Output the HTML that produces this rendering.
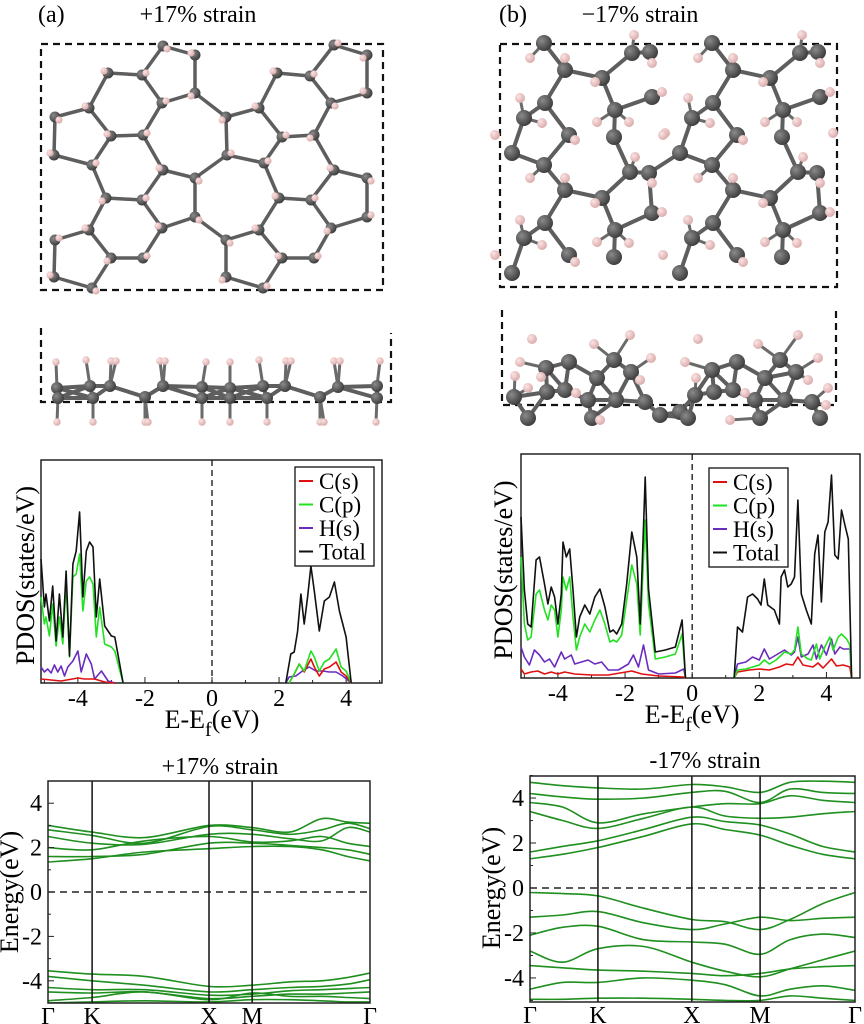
<!DOCTYPE html>
<html><head><meta charset="utf-8"><style>
html,body{margin:0;padding:0;background:#fff;}
svg{display:block;font-family:"Liberation Serif","Times New Roman",serif;}
</style></head><body>
<svg id="fig" width="864" height="1024" viewBox="0 0 864 1024" xmlns="http://www.w3.org/2000/svg">
<defs>
<radialGradient id="cg" cx="0.35" cy="0.35" r="0.7"><stop offset="0" stop-color="#8a8a8a"/><stop offset="1" stop-color="#3a3a3a"/></radialGradient>
<radialGradient id="hg" cx="0.35" cy="0.35" r="0.7"><stop offset="0" stop-color="#fbe4e4"/><stop offset="1" stop-color="#d9a8a8"/></radialGradient>
<clipPath id="clipBL"><rect x="48" y="781" width="322" height="222"/></clipPath>
<clipPath id="clipBR"><rect x="530" y="776" width="325" height="226"/></clipPath>
</defs>
<text x="38" y="22" font-size="24">(a)</text>
<text x="198" y="22" font-size="24" text-anchor="middle">+17% strain</text>
<text x="499" y="22" font-size="24">(b)</text>
<text x="640" y="22" font-size="24" text-anchor="middle">−17% strain</text>
<g id="struct"></g>
<g id="charts"></g>
</svg>
<script>
// ---------- PDOS data (+17%) ----------
const pdosA_valE = [-5.1,-5.0,-4.95,-4.85,-4.75,-4.65,-4.55,-4.45,-4.35,-4.25,-4.15,-4.05,-3.95,-3.85,-3.75,-3.65,-3.55,-3.45,-3.35,-3.2,-3.0,-2.9,-2.65];
const pdosA_valTotal = [12.4,7.6,8.9,6.2,9.7,4.2,8.9,4.6,11.2,2.7,11.9,13.2,17.1,8.6,13.2,14.1,13.6,6.6,10.4,5.7,4.7,4.6,0];
const pdosA_valCp = [8.6,5.9,6.6,4.7,7.9,3.7,6.6,3.9,9.9,2.6,10.6,10.9,12.9,7.2,10.2,10.6,9.9,4.6,7.6,3.9,3.6,3.2,0];
const pdosA_valHsE = [-5.1,-5.0,-4.9,-4.8,-4.7,-4.6,-4.5,-4.4,-4.3,-4.15,-4.0,-3.9,-3.75,-3.6,-3.5,-3.3,-3.1,-2.9];
const pdosA_valHs = [1.6,1.1,1.4,1.0,1.8,1.1,1.7,0.7,1.6,2.2,3.2,1.1,2.9,1.9,0.4,1.2,0.2,0];
const pdosA_valCsE = [-5.1,-4.5,-4.0,-3.8,-3.5,-3.2,-2.9];
const pdosA_valCs = [0.4,0.2,0.5,0.4,0.4,0.1,0];
const pdosA_conE = [2.2,2.35,2.45,2.55,2.65,2.75,2.85,2.95,3.05,3.2,3.35,3.5,3.65,3.8,4.0,4.15];
const pdosA_conTotal = [0,2.9,3.1,5.1,8.9,5.9,8.6,11.7,9.2,5.2,8.2,8.6,10.1,7.2,4.6,0];
const pdosA_conCE = [2.3,2.45,2.6,2.75,2.95,3.05,3.2,3.35,3.5,3.7,3.85,4.0,4.15];
const pdosA_conCp = [0,0.9,1.9,1.2,3.2,2.6,1.2,2.1,2.4,3.4,1.6,1.2,0];
const pdosA_conCs = [0,0.9,1.9,1.1,2.4,1.6,0.7,1.4,1.6,2.1,1.1,0.7,0];
const pdosA_conHE = [2.2,2.3,2.5,2.7,2.9,3.1,3.3,3.5,3.7,3.9,4.15];
const pdosA_conHs = [0,0.6,0.7,1.2,1.6,1.2,1.2,1.1,1.1,0.7,0];
// ---------- PDOS data (-17%) ----------
const pdosB_valE = [-5.1,-5.0,-4.9,-4.8,-4.65,-4.55,-4.4,-4.3,-4.2,-4.1,-4.0,-3.9,-3.85,-3.75,-3.65,-3.55,-3.45,-3.35,-3.2,-3.05,-2.9,-2.75,-2.6,-2.45,-2.35,-2.25,-2.1,-1.95,-1.8,-1.65,-1.55,-1.4,-1.3,-1.1,-0.8,-0.5,-0.3,-0.2];
const pdosB_valTotal = [16.1,8.8,5.4,5.1,11.8,12.1,9.4,7.4,9.1,8.1,5.4,8.4,13.6,12.1,12.9,8.8,4.1,6.1,7.3,6.4,8.1,8.9,7.1,4.6,4.8,4.4,5.4,9.4,14.6,12.1,5.4,20.1,8.9,2.6,2.8,3.1,5.8,0];
const pdosB_valCp = [12.1,5.4,3.8,4.1,8.4,8.8,6.8,5.8,7.3,6.8,4.1,6.8,10.1,8.8,10.1,6.1,2.8,4.1,5.4,4.6,5.8,6.8,5.4,3.6,3.8,3.6,4.3,7.8,11.3,9.4,4.3,15.8,7.4,1.9,2.1,2.4,4.4,0];
const pdosB_valHE = [-5.1,-5.0,-4.85,-4.7,-4.55,-4.4,-4.25,-4.1,-3.9,-3.8,-3.6,-3.5,-3.3,-3.1,-2.9,-2.7,-2.5,-2.2,-1.9,-1.75,-1.6,-1.45,-1.3,-1.0,-0.5,-0.25,-0.2];
const pdosB_valHs = [3.1,2.1,1.3,2.8,2.3,1.6,1.9,1.1,2.6,1.9,2.3,1.4,1.6,1.8,1.4,1.6,0.8,0.8,1.4,2.3,1.1,3.3,0.8,0.4,0.5,0.9,0];
const pdosB_valCsE = [-5.1,-5.0,-4.8,-4.6,-4.4,-4.2,-4.0,-3.8,-3.5,-3.0,-2.5,-1.8,-1.5,-1.0,-0.25,-0.2];
const pdosB_valCs = [0.9,0.4,0.6,0.7,0.4,0.6,0.4,0.6,0.4,0.3,0.3,0.7,0.4,0.2,0.1,0];
const pdosB_conE = [1.25,1.35,1.5,1.65,1.8,1.95,2.05,2.15,2.25,2.45,2.6,2.65,2.75,2.85,2.95,3.05,3.15,3.25,3.4,3.55,3.65,3.75,3.85,3.95,4.05,4.15,4.25,4.35,4.45,4.55,4.65,4.75];
const pdosB_conTotal = [0,5.1,4.6,8.1,8.4,7.9,7.3,9.9,7.3,6.8,5.4,10.1,10.8,9.1,9.4,10.1,17.8,8.4,6.8,5.4,12.4,14.3,7.6,14.6,15.6,20.3,12.3,11.9,16.8,15.3,13.9,0];
const pdosB_conCpE = [1.25,1.35,1.6,1.8,2.0,2.15,2.3,2.5,2.75,2.95,3.05,3.15,3.25,3.45,3.55,3.7,3.8,3.95,4.1,4.2,4.35,4.45,4.6,4.7,4.75];
const pdosB_conCp = [0,0.8,0.9,1.1,1.3,1.8,1.4,1.8,2.6,2.4,2.8,5.1,2.4,1.9,1.8,3.4,1.9,3.1,4.1,2.8,4.1,4.4,3.9,3.3,0];
const pdosB_conHE = [1.25,1.35,1.6,1.8,2.0,2.15,2.3,2.5,2.75,2.95,3.05,3.15,3.25,3.45,3.6,3.7,3.85,4.0,4.15,4.25,4.4,4.5,4.7,4.75];
const pdosB_conHs = [0,1.4,1.6,2.1,1.8,2.9,1.9,2.3,2.8,2.3,2.6,4.1,2.1,2.4,3.3,1.9,3.3,2.3,3.9,2.4,3.1,2.9,2.9,0];
const pdosB_conCsE = [1.25,1.35,1.7,2.0,2.3,2.6,2.8,3.0,3.15,3.3,3.6,3.75,3.9,4.15,4.3,4.5,4.7,4.75];
const pdosB_conCs = [0,0.6,0.8,0.9,0.8,1.1,1.4,1.3,2.1,1.3,1.1,1.5,1.0,1.9,1.2,1.3,1.1,0];
const pdosXTicks = [-4,-2,0,2,4];
const legendLabels = ["C(s)","C(p)","H(s)","Total"];
// ---------- Band data (+17%) ----------
const bandA_k = [0,0.137,0.3,0.5,0.634,0.75,0.85,0.93,1];
const bandA_c1 = [3.0,2.7,2.45,3.0,2.9,2.7,3.3,3.15,3.1];
const bandA_c2 = [2.8,2.55,2.2,2.95,2.8,2.6,2.8,3.1,2.85];
const bandA_c3 = [2.5,2.2,2.15,2.6,2.6,2.4,2.3,2.9,2.7];
const bandA_c4 = [2.0,1.9,2.3,2.5,2.25,2.3,2.5,2.2,2.05];
const bandA_c5 = [1.6,1.6,1.7,2.2,2.2,2.1,2.0,1.9,1.7];
const bandA_c6 = [1.35,1.5,1.8,1.95,2.05,2.05,1.9,1.6,1.4];
const bandA_v1 = [-3.55,-3.7,-3.8,-4.25,-4.2,-4.05,-4.0,-3.85,-3.65];
const bandA_v2 = [-3.8,-4.0,-4.2,-4.5,-4.4,-4.3,-4.25,-4.15,-3.95];
const bandA_v3 = [-4.3,-4.4,-4.4,-4.65,-4.6,-4.45,-4.4,-4.35,-4.3];
const bandA_v4 = [-4.5,-4.55,-4.5,-4.8,-4.7,-4.6,-4.6,-4.55,-4.5];
const bandA_v5 = [-4.9,-4.75,-4.5,-4.85,-4.55,-4.7,-4.7,-4.75,-4.8];
const bandA_v6 = [-5.0,-4.95,-4.9,-4.95,-4.85,-4.85,-4.9,-4.95,-4.95];
const bandA_kLabelPos = [0,0.137,0.5,0.634,1];
// ---------- Band data (-17%) ----------
const bandB_k = [0,0.1,0.209,0.35,0.498,0.6,0.708,0.8,0.9,1];
const bandB_c1 = [4.7,4.55,4.45,4.4,4.6,4.5,4.25,4.7,4.75,4.7];
const bandB_c2 = [4.2,4.05,3.95,4.0,4.25,4.3,3.8,4.4,4.25,4.2];
const bandB_c3 = [3.8,3.6,2.9,3.3,3.6,3.75,3.75,4.1,3.9,3.8];
const bandB_c4 = [3.4,3.0,2.65,3.1,3.6,3.2,3.1,3.15,3.3,3.4];
const bandB_c5 = [1.6,1.85,2.1,2.6,3.15,2.95,2.8,2.4,1.85,1.6];
const bandB_c6 = [1.3,1.5,1.8,2.3,2.85,2.6,2.35,1.9,1.5,1.3];
const bandB_v1 = [-0.2,-0.25,-0.35,-0.9,-1.4,-1.5,-1.85,-1.4,-0.7,-0.2];
const bandB_v2 = [-1.3,-1.2,-1.05,-1.55,-1.85,-1.6,-1.3,-1.45,-1.35,-1.3];
const bandB_v3 = [-2.1,-1.75,-1.7,-2.3,-2.4,-2.5,-2.95,-2.3,-2.05,-2.2];
const bandB_v4 = [-2.8,-3.3,-2.7,-2.6,-3.3,-3.7,-3.95,-3.6,-3.2,-2.8];
const bandB_v5 = [-3.45,-3.55,-3.65,-3.7,-3.8,-3.9,-3.8,-3.6,-3.5,-3.45];
const bandB_v6 = [-4.5,-4.2,-4.2,-4.0,-4.1,-4.3,-4.8,-4.5,-4.35,-4.55];
const bandB_v7 = [-4.95,-4.95,-4.9,-4.9,-4.95,-5.0,-5.0,-4.8,-4.9,-5.0];
const bandB_kLabelPos = [0,0.209,0.498,0.708,1];
const kLabels = ["Γ","K","X","M","Γ"];
const bandYTicks = [-4,-2,0,2,4];

const NS = "http://www.w3.org/2000/svg";
function mk(tag, attrs, parent){
  const el = document.createElementNS(NS, tag);
  for (const k in attrs) el.setAttribute(k, attrs[k]);
  parent.appendChild(el);
  return el;
}
const charts = document.getElementById('charts');
const struct = document.getElementById('struct');

// ---------------- Structures ----------------
function drawMolecule(cAtoms, hAtoms, thr, g, bigR, hThr){
  for (let i=0;i<cAtoms.length;i++) for (let j=i+1;j<cAtoms.length;j++){
    const dx=cAtoms[i][0]-cAtoms[j][0], dy=cAtoms[i][1]-cAtoms[j][1];
    if (Math.sqrt(dx*dx+dy*dy) < thr){
      const b = mk('line',{x1:cAtoms[i][0],y1:cAtoms[i][1],x2:cAtoms[j][0],y2:cAtoms[j][1],stroke:'#5e5e5e','stroke-width':4,'stroke-linecap':'round'},g);
      
      
    }
  }
  hAtoms.forEach(h=>{
    let best=null,bd=1e9;
    cAtoms.forEach(c=>{const d=Math.hypot(c[0]-h[0],c[1]-h[1]); if(d<bd){bd=d;best=c;}});
    if (best && bd<hThr){
      const b = mk('line',{x1:best[0],y1:best[1],x2:h[0],y2:h[1],stroke:'#6a6a6a','stroke-width':3},g);
      
      
    }
  });
  cAtoms.forEach(c=>{
    const a = mk('circle',{cx:c[0],cy:c[1],r:bigR,fill:'url(#cg)'},g);
    
    
  });
  hAtoms.forEach(h=>{
    const a = mk('circle',{cx:h[0],cy:h[1],r:bigR*0.62,fill:'url(#hg)'},g);
    
    
  });
}
function dashedBox(pts, g, name){
  const p = mk('polyline',{points:pts,fill:'none',stroke:'#111','stroke-width':2.2,'stroke-dasharray':'7,5'},g);
  
  
}
// (a) top view
const aC = [[163,46],[195,55],[142,75],[195,93],[162,103],[89,108],[55,117],[111,136],[143,135],[226,117],[227,155],[163,170],[195,178],[54,155],[92,165],[106,198],[142,200],[162,228],[195,217],[89,230],[55,240],[111,258],[143,258],[54,277],[92,288],[108,73],
[334,45],[367,55],[310,76],[367,93],[331,103],[259,108],[282,137],[314,135],[264,163],[334,170],[367,178],[279,198],[311,200],[331,228],[367,217],[259,230],[226,240],[282,258],[314,258],[226,277],[263,288],[277,73]];
const aH = aC.map((c,i)=>[c[0]+(i%2?-4:4), c[1]+(i%3?-2:3)]);
const gA = mk('g',{},struct);


dashedBox('41,44 383,44 383,290 41,290 41,44', gA, 'unit-cell-a-top');
(function(){
  for (let i=0;i<aC.length;i++) for (let j=i+1;j<aC.length;j++){
    const d=Math.hypot(aC[i][0]-aC[j][0],aC[i][1]-aC[j][1]);
    if (d<42){
      const b = mk('line',{x1:aC[i][0],y1:aC[i][1],x2:aC[j][0],y2:aC[j][1],stroke:'#5e5e5e','stroke-width':3.5},gA);
      
      
    }
  }
  aC.forEach((c,i)=>{
    const a = mk('circle',{cx:c[0],cy:c[1],r:5.5,fill:'url(#cg)'},gA);
    
    
    const h = mk('circle',{cx:aH[i][0],cy:aH[i][1],r:3.6,fill:'url(#hg)'},gA);
    
    
  });
})();
// (a) side view
const gAS = mk('g',{},struct);


dashedBox('41,328 41,402 391,402 391,333', gAS, 'unit-cell-a-side');
const aSC = [[57,388],[90,386],[110,386],[163,386],[202,387],[230,388],[263,386],[285,386],[338,387],[377,386],[58,398],[93,398],[145,397],[202,398],[230,398],[267,398],[320,397],[377,398]];
const aSH = [[56,362],[86,360],[111,361],[116,361],[160,361],[165,361],[206,362],[230,362],[259,360],[286,361],[291,361],[334,361],[340,361],[380,361],[57,422],[93,422],[145,422],[148,422],[202,422],[230,422],[267,422],[320,422],[324,422],[376,422]];
drawMolecule(aSC, aSH, 42, gAS, 6, 32);
// (b) top view
const bHalfC = [[544,43],[565,70],[602,78],[632,53],[650,52],[652,97],[615,110],[545,103],[524,118],[569,135],[614,137],[512,153],[544,165],[565,190],[602,198],[630,172],[649,173],[652,213],[615,230],[545,223],[524,238],[569,255],[614,257],[512,273]];
const bHalfH = [[634,35],[530,58],[565,58],[595,82],[652,63],[662,92],[520,98],[542,123],[495,135],[597,122],[629,122],[575,140],[530,178],[565,178],[595,203],[635,157],[652,183],[662,212],[520,220],[542,245],[495,255],[597,242],[629,243],[575,262],[665,133]];
const bC = bHalfC.concat(bHalfC.map(p=>[p[0]+168,p[1]]).filter(p=>p[0]<835));
const bH = bHalfH.concat(bHalfH.map(p=>[p[0]+168,p[1]]).filter(p=>p[0]<838));
const gB = mk('g',{},struct);


dashedBox('500,44 837,44 837,287 500,287 500,44', gB, 'unit-cell-b-top');
drawMolecule(bC, bH, 44, gB, 8, 24);
// (b) side view
const gBS = mk('g',{},struct);


dashedBox('502,310 502,405 836,405 836,310', gBS, 'unit-cell-b-side');
const bSC = [[546,368],[569,362],[614,360],[597,378],[631,372],[514,397],[547,392],[565,390],[588,400],[616,400],[645,402],[660,415],[680,412],[695,395],[712,370],[737,362],[780,360],[765,378],[796,372],[714,392],[733,390],[755,400],[785,400],[812,402],[528,418],[592,418],[688,418],[820,418],[760,418]];
const bSH = [[532,339],[594,344],[630,335],[651,358],[520,362],[528,388],[576,393],[541,377],[698,339],[758,344],[798,335],[818,358],[685,362],[696,378],[745,393],[828,388],[826,405],[515,376],[640,380],[808,380],[600,420],[730,420]];
drawMolecule(bSC, bSH, 34, gBS, 8, 32);

// ---------------- PDOS panels ----------------
function linePath(xs, ys, sx, sy){
  return xs.map((x,i)=>(i?'L':'M')+sx(x).toFixed(1)+','+sy(ys[i]).toFixed(1)).join(' ');
}
function pdosPanel(opt){
  const g = mk('g',{},charts);
  
  
  const {x0,x1,y0,y1,emin,emax,vmax} = opt;
  const sx = e => x0 + (e-emin)/(emax-emin)*(x1-x0);
  const sy = v => y1 - v/vmax*(y1-y0);
  const fr = mk('rect',{x:x0,y:y0,width:x1-x0,height:y1-y0,fill:'none',stroke:'#222','stroke-width':1.5},g);
  
  
  const ef = mk('line',{x1:sx(0),x2:sx(0),y1:y0,y2:y1,stroke:'#111','stroke-width':1.3,'stroke-dasharray':'6,4'},g);
  
  
  for (let t=Math.ceil(emin); t<=Math.floor(emax); t++){
    const tk = mk('line',{x1:sx(t),x2:sx(t),y1:y1,y2:y1-(t%2===0?6:3),stroke:'#222','stroke-width':1},g);
    
    
  }
  pdosXTicks.forEach(t=>{
    const tl = mk('text',{x:sx(t),y:y1+23,'font-size':24,'text-anchor':'middle'},g);
    tl.textContent = t<0 ? '-'+Math.abs(t) : String(t);
    
    
  });
  const series = [
    ['purple','#6a2bbf',opt.hs],['red','#e01010',opt.cs],['green','#22e022',opt.cp],['black','#111',opt.tot]];
  series.forEach(s=>{
    s[2].forEach(part=>{
      const p = mk('path',{d:linePath(part[0],part[1],sx,sy),fill:'none',stroke:s[1],'stroke-width':1.6,'stroke-linejoin':'round'},g);
      
      
    });
  });
  const lg = mk('g',{},g);
  
  
  const lb = mk('rect',{x:opt.lx,y:opt.ly,width:79,height:99,fill:'#fff',stroke:'#111','stroke-width':1.3},lg);
  
  
  const lcols = ['#e01010','#22e022','#6a2bbf','#111'];
  legendLabels.forEach((l,i)=>{
    const yy = opt.ly+14+i*23.5;
    const ln = mk('line',{x1:opt.lx+4,x2:opt.lx+18,y1:yy,y2:yy,stroke:lcols[i],'stroke-width':2},lg);
    
    
    const tx = mk('text',{x:opt.lx+24,y:yy+8,'font-size':23},lg);
    tx.textContent = l;
    
    
  });
  const yl = mk('text',{x:0,y:0,'font-size':26,'text-anchor':'middle',transform:`translate(${opt.ylx},${(y0+y1)/2+4}) rotate(-90)`},g);
  yl.textContent = 'PDOS(states/eV)';
  
  
  const xl = mk('text',{x:sx(0),y:y1+45,'font-size':26,'text-anchor':'middle'},g);
  xl.innerHTML = 'E-E<tspan font-size="20" dy="8">f</tspan><tspan dy="-8">(eV)</tspan>';
  
  
}
pdosPanel({name:'pdos-plus17',x0:41,x1:382,y0:460,y1:683,emin:-5.1,emax:5.07,vmax:22.3,lx:295,ly:467,ylx:34,
  tot:[[pdosA_valE,pdosA_valTotal],[pdosA_conE,pdosA_conTotal]],
  cp:[[pdosA_valE,pdosA_valCp],[pdosA_conCE,pdosA_conCp]],
  cs:[[pdosA_valCsE,pdosA_valCs],[pdosA_conCE,pdosA_conCs]],
  hs:[[pdosA_valHsE,pdosA_valHs],[pdosA_conHE,pdosA_conHs]]});
pdosPanel({name:'pdos-minus17',x0:521,x1:860,y0:454,y1:678,emin:-5.1,emax:5.0,vmax:22.4,lx:709,ly:468,ylx:512,
  tot:[[pdosB_valE,pdosB_valTotal],[pdosB_conE,pdosB_conTotal]],
  cp:[[pdosB_valE,pdosB_valCp],[pdosB_conCpE,pdosB_conCp]],
  cs:[[pdosB_valCsE,pdosB_valCs],[pdosB_conCsE,pdosB_conCs]],
  hs:[[pdosB_valHE,pdosB_valHs],[pdosB_conHE,pdosB_conHs]]});

// ---------------- Band panels ----------------
function smoothPath(xs, ys){
  let d = 'M'+xs[0].toFixed(1)+','+ys[0].toFixed(1);
  for (let i=0;i<xs.length-1;i++){
    const x0=xs[Math.max(0,i-1)], y0=ys[Math.max(0,i-1)];
    const x1=xs[i], y1=ys[i], x2=xs[i+1], y2=ys[i+1];
    const x3=xs[Math.min(xs.length-1,i+2)], y3=ys[Math.min(xs.length-1,i+2)];
    const c1x=x1+(x2-x0)/6, c1y=y1+(y2-y0)/6, c2x=x2-(x3-x1)/6, c2y=y2-(y3-y1)/6;
    d += ` C${c1x.toFixed(1)},${c1y.toFixed(1)} ${c2x.toFixed(1)},${c2y.toFixed(1)} ${x2.toFixed(1)},${y2.toFixed(1)}`;
  }
  return d;
}
function bandPanel(opt){
  const g = mk('g',{},charts);
  
  
  const {x0,x1,y0,y1,emin,emax} = opt;
  const sx = k => x0 + k*(x1-x0);
  const sy = e => y1 - (e-emin)/(emax-emin)*(y1-y0);
  const title = mk('text',{x:opt.tx,y:opt.ty,'font-size':24,'text-anchor':'middle'},g);
  title.textContent = opt.title;
  
  
  const bg = mk('g',{'clip-path':opt.clip},g);
  
  
  opt.bands.forEach(b=>{
    const p = mk('path',{d:smoothPath(opt.k.map(sx), b.map(sy)),fill:'none',stroke:'#1f8f1f','stroke-width':1.6},bg);
    
    
  });
  opt.kpos.forEach((k,i)=>{
    if (i>0 && i<opt.kpos.length-1){
      const v = mk('line',{x1:sx(k),x2:sx(k),y1:y0,y2:y1,stroke:'#111','stroke-width':1.5},g);
      
      
    }
    const t = mk('text',{x:sx(k),y:y1+21,'font-size':24,'text-anchor':'middle'},g);
    t.textContent = kLabels[i];
    
    
  });
  const ef = mk('line',{x1:x0,x2:x1,y1:sy(0),y2:sy(0),stroke:'#222','stroke-width':1.4,'stroke-dasharray':'7,5'},g);
  
  
  const fr = mk('rect',{x:x0,y:y0,width:x1-x0,height:y1-y0,fill:'none',stroke:'#222','stroke-width':1.5},g);
  
  
  for (let t=-5; t<=5; t++){
    if (sy(t)<y0-0.5 || sy(t)>y1+0.5) continue;
    const tk = mk('line',{x1:x0,x2:x0+(t%2===0?6:3),y1:sy(t),y2:sy(t),stroke:'#222','stroke-width':1},g);
    
    
  }
  bandYTicks.forEach(t=>{
    const tl = mk('text',{x:x0-6,y:sy(t)+8,'font-size':24,'text-anchor':'end'},g);
    tl.textContent = t<0 ? '-'+Math.abs(t) : String(t);
    
    
  });
  const yl = mk('text',{x:0,y:0,'font-size':26,'text-anchor':'middle',transform:`translate(${opt.ylx},${sy(0)}) rotate(-90)`},g);
  yl.textContent = 'Energy(eV)';
  
  
}
bandPanel({name:'bands-plus17',x0:48,x1:370,y0:781,y1:1003,emin:-5.0,emax:5.0,title:'+17% strain',tx:220,ty:774,clip:'url(#clipBL)',ylx:18,
  k:bandA_k,kpos:bandA_kLabelPos,bands:[bandA_c1,bandA_c2,bandA_c3,bandA_c4,bandA_c5,bandA_c6,bandA_v1,bandA_v2,bandA_v3,bandA_v4,bandA_v5,bandA_v6]});
bandPanel({name:'bands-minus17',x0:530,x1:855,y0:776,y1:1002,emin:-5.07,emax:4.98,title:'-17% strain',tx:705,ty:768,clip:'url(#clipBR)',ylx:500,
  k:bandB_k,kpos:bandB_kLabelPos,bands:[bandB_c1,bandB_c2,bandB_c3,bandB_c4,bandB_c5,bandB_c6,bandB_v1,bandB_v2,bandB_v3,bandB_v4,bandB_v5,bandB_v6,bandB_v7]});
</script>
</body></html>
